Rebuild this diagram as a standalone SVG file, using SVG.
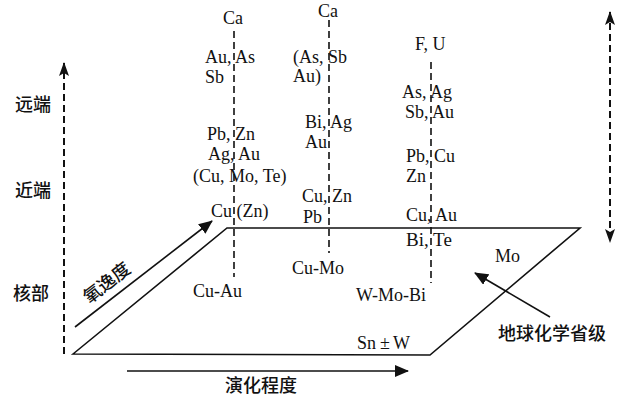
<svg xmlns="http://www.w3.org/2000/svg" width="627" height="399" viewBox="0 0 627 399">
<style>
.t{font-family:"Liberation Serif","Times New Roman",serif;font-size:18px;fill:#111}
.c{font-family:"Noto Sans CJK SC","Noto Sans",sans-serif;font-size:18px;fill:#111;font-weight:500}
.d{stroke:#111;stroke-width:1.6;stroke-dasharray:7,4;fill:none}
.da{stroke:#111;stroke-width:2;stroke-dasharray:7,4;fill:none}
.s{stroke:#111;stroke-width:1.6;fill:none}
</style>
<defs>
<marker id="ah" markerUnits="userSpaceOnUse" markerWidth="16" markerHeight="12" refX="13" refY="6" orient="auto">
<path d="M0,0 L14,6 L0,12 Z" fill="#111"/>
</marker>
<marker id="ab" markerUnits="userSpaceOnUse" markerWidth="16" markerHeight="12" refX="13" refY="5" orient="auto-start-reverse">
<path d="M0,0 L14,5 L0,10 L3,5 Z" fill="#111"/>
</marker>
</defs>
<g id="connectors">
<path id="plane" class="s" d="M73,354 L227,228 L580,228 L430,355 Z"/>
<line class="da" x1="64" y1="354" x2="64" y2="63" marker-end="url(#ab)"/>
<line class="da" x1="610" y1="12" x2="610" y2="242" marker-start="url(#ab)" marker-end="url(#ab)"/>
<line class="d" x1="234" y1="31" x2="234" y2="277"/>
<line class="d" x1="329" y1="20" x2="329" y2="253"/>
<line class="d" x1="431" y1="62" x2="431" y2="283"/>
<line class="s" x1="75" y1="327" x2="212" y2="221" marker-end="url(#ah)"/>
<line class="s" x1="127" y1="371" x2="408" y2="371" marker-end="url(#ah)"/>
<line class="s" x1="550" y1="317" x2="475" y2="273" marker-end="url(#ah)"/>
</g>
<g id="axis-labels">
<text class="c" x="15" y="111">远端</text>
<text class="c" x="15" y="197">近端</text>
<text class="c" x="13" y="300">核部</text>
<text class="c" x="107" y="289" text-anchor="middle" transform="rotate(-38 107 283)">氧逸度</text>
<text class="c" x="225" y="392">演化程度</text>
<text class="c" x="498" y="340">地球化学省级</text>
</g>
<g id="column1">
<text class="t" x="233" y="24" text-anchor="middle">Ca</text>
<text class="t" x="205" y="63">Au, As</text>
<text class="t" x="205" y="83">Sb</text>
<text class="t" x="207" y="140">Pb, Zn</text>
<text class="t" x="208" y="160">Ag, Au</text>
<text class="t" x="193" y="182">(Cu, Mo, Te)</text>
<text class="t" x="211" y="217">Cu (Zn)</text>
<text class="t" x="193" y="297">Cu-Au</text>
</g>
<g id="column2">
<text class="t" x="328" y="17" text-anchor="middle">Ca</text>
<text class="t" x="293" y="63">(As, Sb</text>
<text class="t" x="293" y="82">Au)</text>
<text class="t" x="305" y="128">Bi, Ag</text>
<text class="t" x="305" y="148">Au</text>
<text class="t" x="302" y="202">Cu, Zn</text>
<text class="t" x="303" y="223">Pb</text>
<text class="t" x="292" y="274">Cu-Mo</text>
</g>
<g id="column3">
<text class="t" x="415" y="50">F, U</text>
<text class="t" x="402" y="98">As, Ag</text>
<text class="t" x="405" y="118">Sb, Au</text>
<text class="t" x="406" y="162">Pb, Cu</text>
<text class="t" x="406" y="182">Zn</text>
<text class="t" x="406" y="221">Cu, Au</text>
<text class="t" x="406" y="246" style="font-size:19px">Bi, Te</text>
<text class="t" x="356" y="301">W-Mo-Bi</text>
</g>
<g id="plane-labels">
<text class="t" x="495" y="262">Mo</text>
<text class="t" x="357" y="349">Sn<tspan x="380">±</tspan><tspan x="393">W</tspan></text>
</g>
</svg>
